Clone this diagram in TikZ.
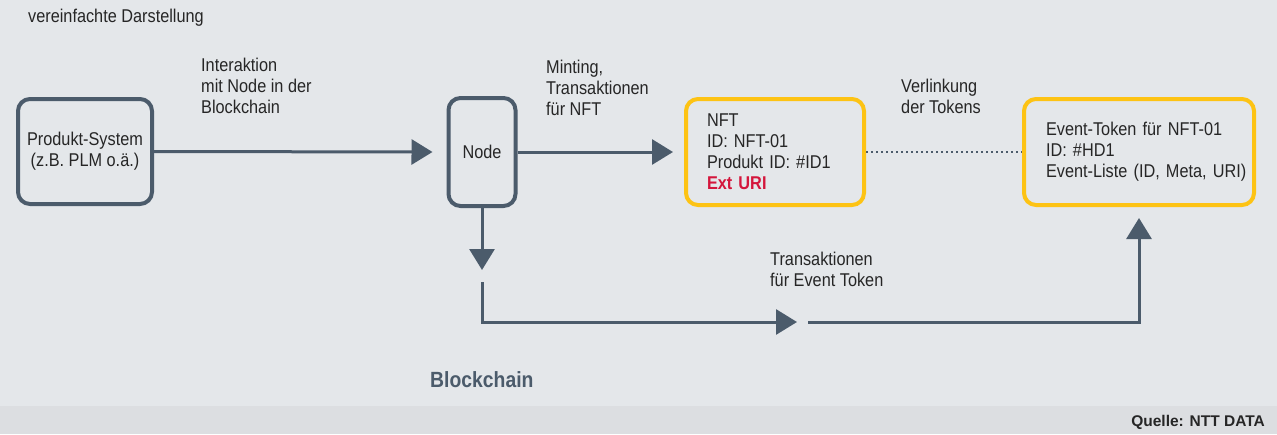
\documentclass[tikz,border=0pt]{standalone}
\usepackage{fontspec}
\setmainfont{Liberation Sans}[FakeStretch=0.88]
\newfontfamily\widefont{Liberation Sans}
\usetikzlibrary{arrows.meta}
\definecolor{slate}{RGB}{75,91,107}
\definecolor{ntyellow}{RGB}{253,195,20}
\definecolor{ntred}{RGB}{212,22,60}
\definecolor{bgmain}{RGB}{228,231,234}
\definecolor{bgstrip}{RGB}{220,222,225}
\definecolor{txt}{RGB}{38,38,38}
\tikzset{
  slatebox/.style={draw=slate, line width=4pt, rounded corners=12pt, text=txt,
    font=\fontsize{18.5}{21}\selectfont, align=center},
  yellowbox/.style={draw=ntyellow, line width=4pt, rounded corners=12pt, text=txt,
    font=\fontsize{18.5}{21}\selectfont, align=left, inner ysep=0pt},
  conn/.style={draw=slate, line width=3pt, -{Triangle[width=25pt,length=21pt]}},
  lbl/.style={anchor=west, align=left, inner sep=0pt, text=txt,
    font=\fontsize{18.5}{21}\selectfont},
}
\begin{document}
\begin{tikzpicture}[x=1pt,y=-1pt]
\useasboundingbox (0,0) rectangle (1277,434);
\fill[bgmain] (0,0) rectangle (1277,406);
\fill[bgstrip] (0,406) rectangle (1277,434);

\node[lbl] (title) at (28,18) {vereinfachte Darstellung};

\node[slatebox, minimum width=134pt, minimum height=105pt] (prod) at (85,151.5)
  {Produkt-System\\(z.B. PLM o.ä.)};
\node[slatebox, minimum width=67pt, minimum height=108pt] (nd) at (482,152) {Node};
\node[yellowbox, minimum height=106pt, text width=136pt, inner xsep=21pt] (nft) at (775,152)
  {\mbox{NFT}\\\mbox{ID: NFT-01}\\\mbox{Produkt ID: \#ID1}\\\mbox{\textcolor{ntred}{\bfseries Ext URI}}};
\node[yellowbox, minimum height=106pt, text width=186pt, inner xsep=22pt] (ev) at (1139,152)
  {\mbox{Event-Token für NFT-01}\\\mbox{ID: \#HD1}\\\mbox{Event-Liste (ID, Meta, URI)}};

\node[lbl] (l1) at (201,86) {Interaktion\\mit Node in der\\Blockchain};
\node[lbl] (l2) at (546,88) {Minting,\\Transaktionen\\für NFT};
\node[lbl] (l3) at (901,96.5) {Verlinkung\\der Tokens};
\node[lbl] (l4) at (770,269.5) {Transaktionen\\für Event Token};

\node[anchor=west, inner sep=0pt, text=slate, font=\fontsize{22}{25}\selectfont\bfseries] (bc) at (430,380) {Blockchain};
\node[anchor=east, inner sep=0pt, text=txt, font=\widefont\fontsize{15.5}{17}\selectfont\bfseries] (src) at (1265,422) {Quelle: NTT DATA};

\draw[conn] (prod.east) -- ([xshift=-14pt]nd.west);
\draw[conn] (nd.east) -- ([xshift=-11pt]nft.west);
\draw[slate, line width=2pt, dash pattern=on 2pt off 3pt] (nft.east) -- (ev.west);

\coordinate (b1) at (482,282);
\coordinate (b3) at (797,322);
\coordinate (b4) at (808,322);
\draw[conn] (nd.south) -- ([yshift=-62pt]nd.south);
\draw[conn] (b1) |- (b3);
\draw[conn] (b4) -| ([yshift=-11pt]ev.south);
\end{tikzpicture}
\end{document}
